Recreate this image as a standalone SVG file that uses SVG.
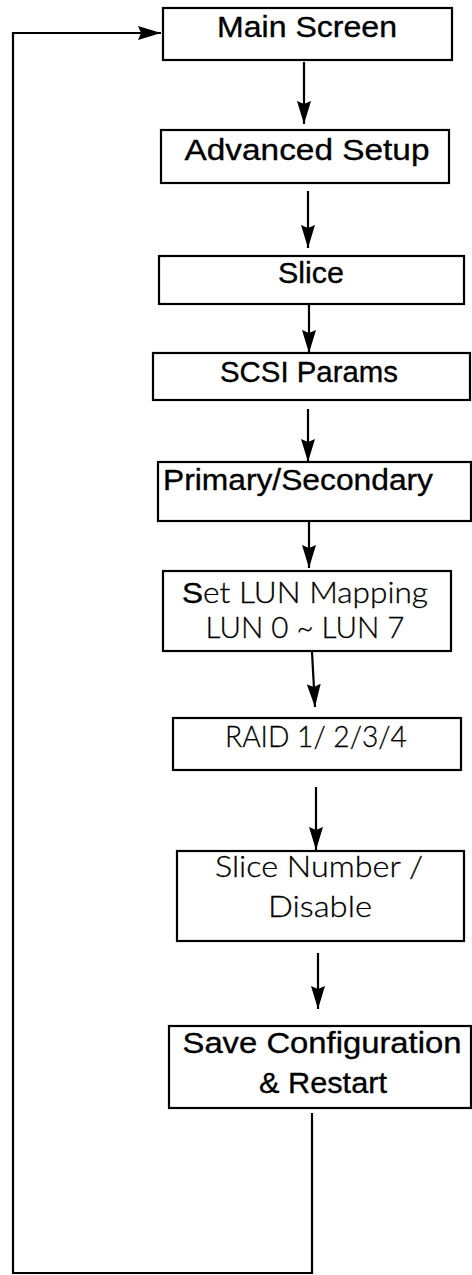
<svg xmlns="http://www.w3.org/2000/svg" width="472" height="1275" viewBox="0 0 472 1275">
<style>
.box{fill:#fff;stroke:#000;stroke-width:2.2}
.t{font-family:"Liberation Sans",Arial,sans-serif;font-size:30px;fill:#000;text-anchor:middle}
.b{stroke:#000;stroke-width:0.35}
.l{font-family:Lato,"Liberation Sans",Arial,sans-serif;font-weight:300;stroke:#000;stroke-width:0.3}
.sb{font-family:"Liberation Sans",Arial,sans-serif;font-weight:normal;stroke:#000;stroke-width:0.35}
.c{fill:none;stroke:#000;stroke-width:2.2}
</style>
<defs>
<marker id="ah" markerUnits="userSpaceOnUse" markerWidth="26" markerHeight="14" refX="23" refY="7" orient="auto">
<path d="M0,0 L23,7 L0,14 L3,7 z" fill="#000"/>
</marker>
</defs>
<g id="connectors">
<line class="c" x1="304" y1="62" x2="304" y2="124" marker-end="url(#ah)"/>
<line class="c" x1="308" y1="191" x2="308" y2="248" marker-end="url(#ah)"/>
<line class="c" x1="309" y1="304" x2="309" y2="353" marker-end="url(#ah)"/>
<line class="c" x1="308" y1="409" x2="308" y2="462" marker-end="url(#ah)"/>
<line class="c" x1="309" y1="521" x2="309" y2="568" marker-end="url(#ah)"/>
<line class="c" x1="312" y1="652" x2="315" y2="707" marker-end="url(#ah)"/>
<line class="c" x1="316" y1="787" x2="316" y2="850" marker-end="url(#ah)"/>
<line class="c" x1="318" y1="953" x2="318" y2="1009" marker-end="url(#ah)"/>
<polyline class="c" points="312,1113 312,1273 13,1273 13,33 161,33" marker-end="url(#ah)"/>
</g>
<g id="main-screen">
<rect class="box" x="163" y="8" width="289" height="52"/>
<text class="t b" x="307" y="37" textLength="180" lengthAdjust="spacingAndGlyphs">Main Screen</text>
</g>
<g id="advanced-setup">
<rect class="box" x="161" y="130" width="288" height="53"/>
<text class="t b" x="307" y="160" textLength="245" lengthAdjust="spacingAndGlyphs">Advanced Setup</text>
</g>
<g id="slice">
<rect class="box" x="159" y="256" width="305" height="48"/>
<text class="t b" x="311" y="283" textLength="66" lengthAdjust="spacingAndGlyphs">Slice</text>
</g>
<g id="scsi-params">
<rect class="box" x="153" y="353" width="317" height="47"/>
<text class="t b" x="309" y="382" textLength="178" lengthAdjust="spacingAndGlyphs">SCSI Params</text>
</g>
<g id="primary-secondary">
<rect class="box" x="158" y="462" width="313" height="59"/>
<text class="t b" x="163" y="490" style="text-anchor:start" textLength="270" lengthAdjust="spacingAndGlyphs">Primary/Secondary</text>
</g>
<g id="set-lun-mapping">
<rect class="box" x="163" y="571" width="288" height="80"/>
<text class="t l" x="305" y="603" textLength="246" lengthAdjust="spacingAndGlyphs"><tspan class="sb">S</tspan>et LUN Mapping</text>
<text class="t l" x="305" y="638" textLength="199" lengthAdjust="spacingAndGlyphs">LUN 0 ~ LUN 7</text>
</g>
<g id="raid">
<rect class="box" x="173" y="718" width="288" height="52"/>
<text class="t l" x="316" y="747" textLength="182" lengthAdjust="spacingAndGlyphs">RAID 1/ 2/3/4</text>
</g>
<g id="slice-number">
<rect class="box" x="177" y="851" width="287" height="90"/>
<text class="t l" x="319" y="877" textLength="208" lengthAdjust="spacingAndGlyphs">Slice Number /</text>
<text class="t l" x="320" y="917" textLength="104" lengthAdjust="spacingAndGlyphs">Disable</text>
</g>
<g id="save-configuration">
<rect class="box" x="169" y="1026" width="302" height="82"/>
<text class="t b" x="322" y="1053" textLength="279" lengthAdjust="spacingAndGlyphs">Save Configuration</text>
<text class="t b" x="323" y="1093" textLength="128" lengthAdjust="spacingAndGlyphs">&amp; Restart</text>
</g>
</svg>
